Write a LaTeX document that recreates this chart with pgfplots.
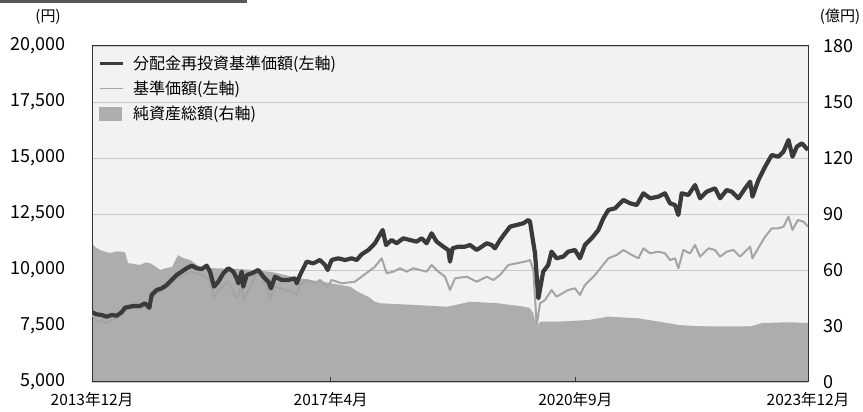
\documentclass[border=0pt]{standalone}
\usepackage{fontspec}
\setmainfont{Noto Sans CJK JP}
\usepackage{pgfplots}
\pgfplotsset{compat=1.18}
\definecolor{darkline}{HTML}{3A3A3A}
\definecolor{lightline}{HTML}{A4A4A4}
\definecolor{areagray}{HTML}{ADADAD}
\definecolor{bggray}{HTML}{F2F2F2}
\definecolor{gridgray}{HTML}{C8C8C8}
\definecolor{framegray}{HTML}{333333}
\begin{document}
\begin{tikzpicture}
\useasboundingbox (0pt,0pt) rectangle (863pt,412pt);
\fill[darkline!85] (0pt,409pt) rectangle (247pt,412pt);
\node[font=\fontsize{15}{17}\selectfont] at (48pt,395pt) {(円)};
\node[font=\fontsize{15}{17}\selectfont] at (840pt,395pt) {(億円)};
% right axis: net assets (area)
\begin{axis}[at={(92pt,30pt)}, anchor=south west, width=716pt, height=336pt, scale only axis,
  xmin=0, xmax=120, ymin=0, ymax=180,
  axis y line*=right, axis x line*=bottom, xtick=\empty,
  x axis line style={draw=none},
  ytick={0,30,...,180}, ymajorgrids, grid style={gridgray, line width=0.8pt},
  axis background/.style={fill=bggray},
  major tick length=0pt,
  y axis line style={draw=framegray, line width=1pt},
  yticklabel style={inner sep=0pt, anchor=west, xshift=15pt, font=\fontsize{18}{21}\selectfont},
  /pgf/number format/assume math mode=true,
]
\addplot[fill=areagray, draw=none] coordinates {
(0,74.5) (0.5,72.3) (1.5,70.5) (3.02,69.1) (4.2,70) (5.53,69.6) (6.03,63.7) (8.04,62.7) (9.0,64) (9.72,63.7) (10.56,62) (11.40,60) (12.4,61) (13.41,61.6) (14.41,68) (15.2,66.5) (16.42,65.4) (18.10,61.6) (20,61) (25,60.5) (30,59) (34.86,55.5) (39.89,53) (43.3,51) (44.5,48.4) (46.3,45.7) (47.4,43) (48.27,42.2) (53.9,41.3) (59.5,40.3) (63.4,43) (67.9,42.2) (72.5,40.3) (73.4,39.5) (73.97,36.8) (74.53,29.6) (75.09,32.3) (77.9,32.3) (83.2,33.2) (86.5,35) (91.6,34.1) (96.8,31.4) (98.39,30.5) (103.92,29.5) (110.12,29.5) (112.28,31.6) (116.80,32) (120,31.6)
} \closedcycle;
\end{axis}
% left axis: prices
\begin{axis}[at={(92pt,30pt)}, anchor=south west, width=716pt, height=336pt, scale only axis,
  xmin=0, xmax=120, ymin=5000, ymax=20000,
  axis line style={draw=framegray, line width=1pt},
  xtick={0,40,81,120}, xticklabels={2013年12月,2017年4月,2020年9月,2023年12月},
  xtick pos=bottom, xtick align=inside, major tick length=5pt,
  x tick style={draw=framegray, line width=0.8pt},
  ytick={5000,7500,...,20000}, ytick pos=left, y tick style={draw=none},
  scaled y ticks=false,
  /pgf/number format/.cd, 1000 sep={,}, assume math mode=true, /pgfplots/.cd,
  yticklabel style={inner sep=0pt, anchor=east, xshift=-26pt, font=\fontsize{18}{21}\selectfont},
  xticklabel style={inner sep=0pt, anchor=center, yshift=-18pt, font=\fontsize{15.5}{18}\selectfont},
  legend style={at={(0.008,0.975)}, anchor=north west, draw=none, fill=none,
    font=\fontsize{16}{19}\selectfont, row sep=7pt, inner sep=0pt,
    nodes={inner sep=1.5pt}},
  legend cell align=left,
]
\addlegendimage{legend image code/.code={\draw[darkline, line width=3.5pt] (0pt,0pt) -- (23pt,0pt); \path[draw=none, fill=none] (0pt,0pt) -- (32pt,0pt);}}
\addlegendentry{分配金再投資基準価額(左軸)}
\addlegendimage{legend image code/.code={\draw[lightline, line width=1.6pt] (0pt,0pt) -- (23pt,0pt); \path[draw=none, fill=none] (0pt,0pt) -- (32pt,0pt);}}
\addlegendentry{基準価額(左軸)}
\addlegendimage{legend image code/.code={\fill[areagray] (0pt,-6.5pt) rectangle (22pt,6.5pt); \path[draw=none, fill=none] (0pt,0pt) -- (32pt,0pt);}}
\addlegendentry{純資産総額(右軸)}
\addplot[lightline, line width=2pt, line join=round, forget plot] coordinates {
(0,8022) (0.78,7692) (1.62,7768) (2.46,7619) (3.30,7768) (4.14,7842) (4.97,8067) (5.53,8200) (6.93,8290) (8.04,8290) (8.88,8400) (9.61,8214) (10.0,8700) (10.84,8960) (12.52,9200) (14.19,9628) (16.71,9926) (18.39,9777) (19.78,9554) (20.45,8737) (21.17,9107) (22.85,9479) (24.25,8737) (24.53,8810) (25.09,9479) (25.36,8661) (26.77,9405) (27.88,9926) (29.55,9107) (29.83,8661) (30.67,9256) (32.35,9107) (34.02,8960) (34.3,8884) (34.86,9330) (35.98,9554) (37.37,9405) (38.21,9554) (39.5,9256) (40.17,9554) (41.84,9405) (44.08,9479) (45.2,9702) (46.31,9926) (47.43,10149) (48.55,10522) (49.39,9852) (50.5,9926) (51.62,10077) (52.73,9926) (53.85,10077) (54.96,10000) (56.08,9926) (56.92,10223) (58.04,9926) (59.16,9702) (60.0,9107) (60.84,9628) (62.79,9702) (64.47,9479) (66.15,9702) (67.27,9554) (68.38,9777) (69.78,10223) (71.17,10298) (72.57,10372) (73.41,10446) (73.97,10000) (74.53,7545) (75.09,8513) (75.93,8661) (77.02,9107) (77.86,8810) (79.82,9107) (80.94,9182) (81.78,8884) (82.62,9330) (84.3,9777) (85.42,10149) (86.54,10522) (87.94,10670) (89.06,10893) (90.46,10670) (91.58,10522) (92.41,10968) (93.53,10744) (94.93,10818) (96.05,10744) (96.87,10446) (97.71,10522) (98.27,10077) (99.11,10893) (100.23,10744) (101.07,11116) (101.91,10596) (103.31,10968) (104.42,10893) (105.26,10596) (106.38,10818) (107.5,10893) (108.62,10596) (109.74,10893) (110.3,11041) (110.69,10522) (111.97,11116) (112.81,11487) (113.93,11861) (115.05,11861) (115.89,11935) (116.73,12380) (117.4,11786) (118.3,12232) (119.25,12157) (120,11935)
};
\addplot[darkline, line width=4.2pt, line join=round, forget plot] coordinates {
(0,8112) (0.78,8022) (1.62,7991) (2.46,7915) (3.30,7991) (4.14,7960) (4.97,8111) (5.53,8317) (6.93,8393) (8.04,8393) (8.88,8513) (9.61,8317) (10.0,8884) (10.84,9107) (11.68,9182) (12.52,9330) (13.36,9554) (14.19,9777) (15.03,9926) (15.87,10077) (16.71,10193) (17.55,10077) (18.39,10045) (19.22,10193) (19.78,9926) (20.45,9256) (21.17,9479) (22.01,9852) (22.85,10077) (23.69,9926) (24.25,9628) (24.53,9405) (25.09,9926) (25.36,9256) (25.93,9777) (26.77,9852) (27.88,10000) (28.72,9702) (29.55,9479) (30.0,9182) (30.67,9702) (31.79,9554) (32.9,9554) (34.02,9628) (34.3,9405) (34.86,9777) (35.98,10372) (37.09,10298) (38.21,10446) (39.05,10223) (39.5,10000) (40.17,10446) (41.28,10522) (42.40,10446) (43.52,10522) (44.36,10446) (45.2,10700) (46.31,10893) (47.43,11193) (48.55,11711) (48.72,11786) (49.28,11116) (50.22,11339) (51.05,11193) (52.17,11415) (53.29,11339) (54.4,11265) (55.24,11415) (56.08,11193) (56.92,11638) (57.76,11265) (58.88,11041) (59.72,10893) (60.0,10372) (60.44,10968) (61.39,11041) (62.51,11041) (63.35,11116) (64.47,10893) (65.31,11041) (66.15,11193) (66.99,11116) (67.54,10968) (68.38,11339) (69.22,11638) (70.06,11935) (71.17,12009) (72.29,12085) (73.13,12232) (73.41,12157) (73.8,11487) (74.25,10744) (74.81,8737) (75.62,9926) (76.46,10223) (77.02,10818) (77.86,10522) (78.98,10596) (79.82,10818) (80.94,10893) (81.78,10522) (82.62,11116) (83.74,11415) (84.86,11786) (85.7,12308) (86.54,12679) (87.66,12754) (89.06,13125) (90.18,12978) (91.3,12902) (92.41,13424) (93.53,13201) (94.93,13274) (96.03,13424) (96.87,12978) (97.71,12902) (98.27,12455) (98.83,13424) (99.95,13348) (101.07,13795) (101.91,13201) (103.03,13497) (104.42,13647) (105.26,13201) (106.38,13571) (107.22,13497) (108.34,13201) (109.46,13647) (110.3,13943) (110.69,13274) (111.69,14018) (112.81,14612) (113.93,15134) (115.05,15058) (115.89,15281) (116.73,15804) (117.4,15058) (118.13,15505) (118.97,15656) (120,15357)
};
\end{axis}
\end{tikzpicture}
\end{document}
